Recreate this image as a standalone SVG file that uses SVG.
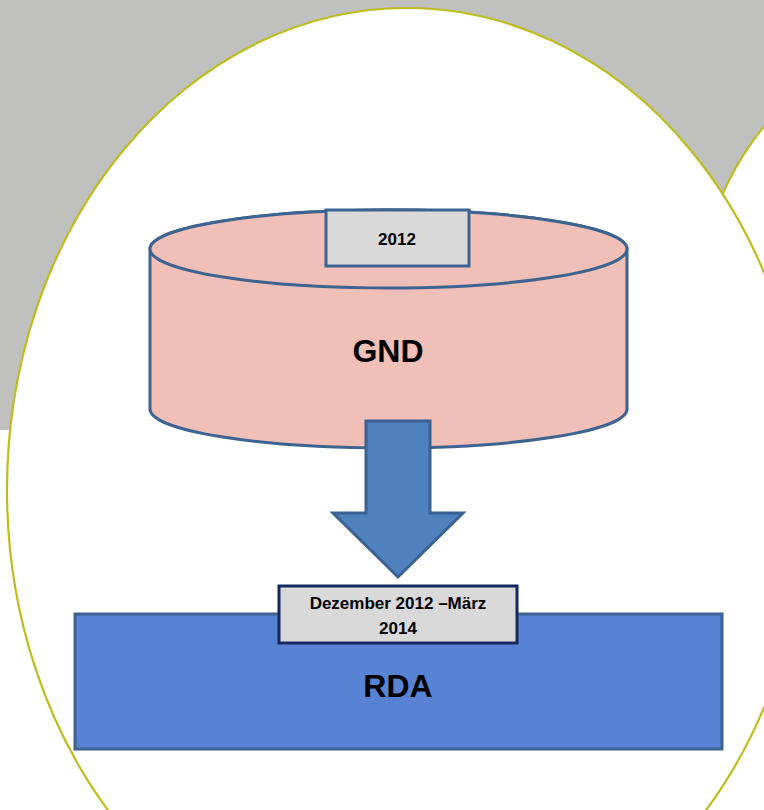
<svg xmlns="http://www.w3.org/2000/svg" width="764" height="810" viewBox="0 0 764 810">
<style>
.bg{fill:#C0C0BF}
.oval{fill:#FFFFFF;stroke:#BDBD1E;stroke-width:2.2}
.cyl{fill:#EFBFB8;stroke:#3D6391;stroke-width:3}
.lab{fill:#D9D9D9;stroke:#3D6391;stroke-width:3}
.lab2{fill:#D9D9D9;stroke:#17285C;stroke-width:3}
.arrow{fill:#4F81BD;stroke:#3A6193;stroke-width:3;stroke-linejoin:miter}
.rda{fill:#5882D3;stroke:#3D6391;stroke-width:3}
.t{font-family:"Liberation Sans",Arial,sans-serif;font-weight:bold;fill:#000;text-anchor:middle}
</style>
<rect class="bg" x="0" y="0" width="764" height="430"/>
<ellipse class="oval" cx="1100" cy="300" rx="400" ry="320"/>
<ellipse class="oval" cx="407" cy="490" rx="400" ry="482"/>
<g id="gnd">
<path class="cyl" d="M150,249 L150,409 A238.5,39 0 0 0 627,409 L627,249 A238.5,39 0 0 0 150,249 Z"/>
<ellipse class="cyl" cx="388.5" cy="249" rx="238.5" ry="39"/>
<text class="t" x="388" y="362" font-size="32">GND</text>
</g>
<g id="label2012">
<rect class="lab" x="326" y="210" width="143" height="56"/>
<text class="t" x="397" y="245" font-size="17">2012</text>
</g>
<g id="rda">
<rect class="rda" x="75" y="614" width="647" height="135"/>
<text class="t" x="398" y="697" font-size="32">RDA</text>
</g>
<g id="connectors">
<path class="arrow" d="M366,421 L430,421 L430,513 L463,513 L398,577 L333,513 L366,513 Z"/>
</g>
<g id="labelDates">
<rect class="lab2" x="279" y="586" width="238" height="57"/>
<text class="t" x="398" y="609" font-size="17">Dezember 2012 –März</text>
<text class="t" x="398" y="634" font-size="17">2014</text>
</g>
</svg>
